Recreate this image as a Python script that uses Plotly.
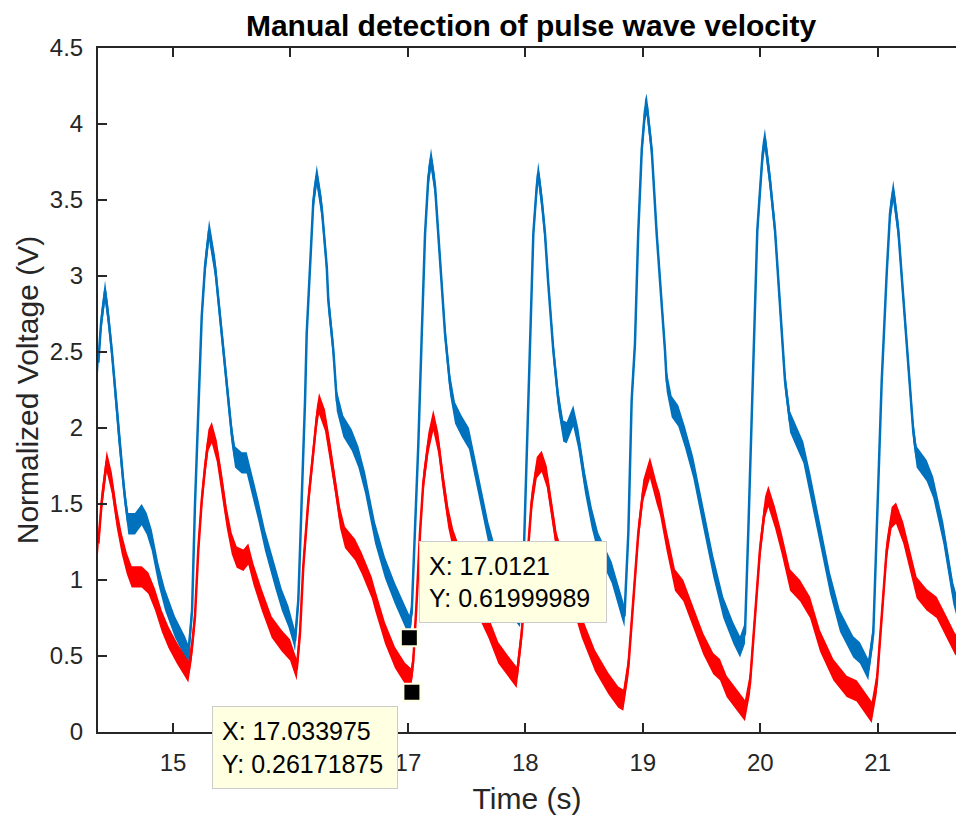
import plotly.graph_objects as go

# ---------------- data ----------------
blue_t = [14.364, 14.387, 14.421, 14.449, 14.478, 14.506, 14.534, 14.577, 14.596, 14.619,
          14.676, 14.733, 14.776, 14.819, 14.875, 14.932, 15.017, 15.102, 15.130,
          15.162, 15.187, 15.213, 15.244, 15.272, 15.307,
          15.358, 15.400, 15.443, 15.471, 15.500, 15.528, 15.585, 15.627, 15.670, 15.726,
          15.783, 15.868, 15.926, 15.982, 16.024, 16.039,
          16.067, 16.096, 16.124, 16.138, 16.166, 16.195, 16.224,
          16.266, 16.309, 16.322, 16.365, 16.394, 16.450, 16.522, 16.578, 16.635, 16.720,
          16.805, 16.890, 16.975, 17.012,
          17.032, 17.060, 17.089, 17.118, 17.146, 17.174, 17.197,
          17.231, 17.259, 17.288, 17.316, 17.358, 17.401, 17.458, 17.520, 17.571, 17.628,
          17.685, 17.742, 17.827, 17.912, 17.954,
          17.980, 18.012, 18.040, 18.068, 18.097, 18.110,
          18.139, 18.167, 18.195, 18.238, 18.281, 18.323, 18.352, 18.408, 18.451, 18.508,
          18.565, 18.621, 18.735, 18.820, 18.844,
          18.877, 18.905, 18.933, 18.961, 18.991, 19.019, 19.033,
          19.076, 19.118, 19.161, 19.189, 19.203, 19.246, 19.302, 19.359, 19.430, 19.515,
          19.600, 19.685, 19.771, 19.828,
          19.870, 19.898, 19.927, 19.955, 19.975, 19.998, 20.021, 20.040,
          20.083, 20.126, 20.154, 20.183, 20.211, 20.254, 20.310, 20.367, 20.424, 20.509,
          20.594, 20.679, 20.792, 20.849, 20.920,
          20.963, 20.992, 21.034, 21.077, 21.105, 21.133,
          21.176, 21.218, 21.261, 21.303, 21.332, 21.417, 21.473, 21.559, 21.644, 21.701]
blue_v = [2.43, 2.69, 2.90, 2.73, 2.51, 2.25, 1.98, 1.64, 1.50, 1.37,
          1.37, 1.43, 1.37, 1.26, 1.04, 0.87, 0.69, 0.56, 0.505,
          0.80, 1.50, 2.10, 2.73, 3.06, 3.30,
          3.06, 2.73, 2.40, 2.18, 1.96, 1.81, 1.77, 1.77, 1.64, 1.46,
          1.26, 1.02, 0.87, 0.76, 0.65, 0.60,
          0.87, 1.52, 2.18, 2.62, 3.06, 3.50, 3.66,
          3.45, 3.06, 2.84, 2.51, 2.18, 2.01, 1.92, 1.81, 1.64, 1.31,
          1.08, 0.91, 0.76, 0.70,
          0.78, 1.31, 1.90, 2.62, 3.28, 3.65, 3.77,
          3.59, 3.28, 2.95, 2.62, 2.29, 2.10, 2.01, 1.93, 1.74, 1.52,
          1.31, 1.15, 0.95, 0.80, 0.76,
          1.00, 1.87, 2.62, 3.28, 3.59, 3.68,
          3.50, 3.28, 2.95, 2.51, 2.18, 1.98, 1.97, 2.08, 1.93, 1.64,
          1.41, 1.24, 1.05, 0.82, 0.76,
          1.31, 2.18, 2.55, 3.28, 3.83, 4.09, 4.13,
          3.83, 3.28, 2.84, 2.51, 2.31, 2.14, 2.08, 1.94, 1.74, 1.41,
          1.09, 0.82, 0.65, 0.56,
          0.65, 1.31, 2.07, 2.75, 3.30, 3.56, 3.81, 3.90,
          3.63, 3.30, 2.97, 2.64, 2.31, 2.04, 1.94, 1.84, 1.64, 1.31,
          0.98, 0.73, 0.56, 0.52, 0.41,
          0.65, 1.31, 2.30, 3.02, 3.41, 3.56,
          3.30, 2.86, 2.43, 1.98, 1.81, 1.72, 1.61, 1.31, 0.91, 0.75]

red_t = [14.364, 14.393, 14.435, 14.478, 14.521, 14.563, 14.606, 14.648, 14.733, 14.790,
         14.847, 14.904, 14.960, 15.032, 15.088, 15.130,
         15.159, 15.187, 15.215, 15.244, 15.272, 15.301, 15.330,
         15.372, 15.415, 15.457, 15.500, 15.542, 15.599, 15.641, 15.684, 15.755, 15.840,
         15.926, 15.996, 16.053,
         16.081, 16.109, 16.152, 16.195, 16.224, 16.243,
         16.294, 16.337, 16.379, 16.422, 16.464, 16.550, 16.607, 16.692, 16.720, 16.805,
         16.890, 16.975, 17.026,
         17.046, 17.075, 17.103, 17.131, 17.174, 17.216,
         17.259, 17.301, 17.344, 17.387, 17.529, 17.685, 17.770, 17.855, 17.926,
         17.969, 18.012, 18.054, 18.097, 18.139,
         18.182, 18.225, 18.267, 18.380, 18.480, 18.593, 18.706, 18.791, 18.834,
         18.877, 18.919, 18.962, 19.004, 19.061,
         19.118, 19.146, 19.203, 19.274, 19.345, 19.430, 19.515, 19.600, 19.657, 19.714,
         19.799, 19.870,
         19.913, 19.955, 19.998, 20.041, 20.069,
         20.126, 20.183, 20.254, 20.339, 20.424, 20.509, 20.622, 20.736, 20.821, 20.877,
         20.949,
         20.992, 21.034, 21.077, 21.119, 21.156,
         21.218, 21.275, 21.332, 21.417, 21.502, 21.588, 21.658, 21.700]
red_v = [1.24, 1.52, 1.78, 1.64, 1.41, 1.24, 1.11, 1.02, 1.02, 0.98,
         0.87, 0.73, 0.625, 0.52, 0.45, 0.395,
         0.54, 0.76, 1.20, 1.52, 1.74, 1.92, 1.97,
         1.85, 1.64, 1.41, 1.24, 1.15, 1.13, 1.17, 1.04, 0.87, 0.69,
         0.60, 0.54, 0.41,
         0.65, 1.09, 1.52, 1.85, 2.07, 2.16,
         2.05, 1.85, 1.64, 1.41, 1.28, 1.20, 1.11, 0.95, 0.87, 0.65,
         0.49, 0.385, 0.35,
         0.47, 0.87, 1.31, 1.64, 1.90, 2.05,
         1.90, 1.64, 1.41, 1.26, 0.95, 0.69, 0.52, 0.43, 0.36,
         0.65, 1.09, 1.52, 1.74, 1.78,
         1.68, 1.46, 1.24, 0.95, 0.69, 0.47, 0.32, 0.23, 0.21,
         0.43, 0.87, 1.31, 1.59, 1.74,
         1.57, 1.50, 1.26, 1.00, 0.93, 0.76, 0.58, 0.45, 0.41, 0.30,
         0.21, 0.14,
         0.32, 0.76, 1.20, 1.48, 1.55,
         1.41, 1.24, 1.00, 0.93, 0.82, 0.60, 0.41, 0.30, 0.27, 0.21,
         0.13,
         0.32, 0.76, 1.20, 1.41, 1.44,
         1.31, 1.13, 0.95, 0.87, 0.82, 0.69, 0.58, 0.55]

tip_x = [17.0121, 17.033975]
tip_y = [0.61999989, 0.26171875]

x_ticks = [15, 16, 17, 18, 19, 20, 21]
y_ticks = [0, 0.5, 1, 1.5, 2, 2.5, 3, 3.5, 4, 4.5]
y_tick_labels = ["0", "0.5", "1", "1.5", "2", "2.5", "3", "3.5", "4", "4.5"]

# ---------------- styles ----------------
BLUE = "#0072BD"
RED = "#FF0000"
AX = "#262626"
FONT = "Liberation Sans, Arial, Helvetica, sans-serif"
NOISE_HALF = 0.07   # visual half-thickness of the noisy trace (V)

fig = go.Figure()


def add_signal(t, v, color, name):
    upper = [y + NOISE_HALF for y in v]
    lower = [y - NOISE_HALF for y in v]
    fig.add_trace(go.Scatter(x=t + t[::-1], y=upper + lower[::-1], fill="toself",
                             fillcolor=color, line=dict(width=0), mode="lines",
                             hoverinfo="skip", showlegend=False))
    fig.add_trace(go.Scatter(x=t, y=v, mode="lines", name=name,
                             line=dict(color=color, width=2.5), showlegend=False))


add_signal(blue_t, blue_v, BLUE, "Channel 1")
add_signal(red_t, red_v, RED, "Channel 2")

fig.add_trace(go.Scatter(x=tip_x, y=tip_y, mode="markers",
                         marker=dict(symbol="square", size=17, color="black",
                                     line=dict(color="#FFFFE1", width=2)),
                         showlegend=False, hoverinfo="skip"))

# data tip boxes
tip_font = dict(family=FONT, size=25, color="black")
fig.add_annotation(x=tip_x[0], y=tip_y[0], xref="x", yref="y",
                   text=f"X: {tip_x[0]}<br>Y: {tip_y[0]}", showarrow=False,
                   xanchor="left", yanchor="top", xshift=10, yshift=97,
                   align="left", width=168, height=62, borderpad=9,
                   bgcolor="#FFFFE1", bordercolor="#CCCCCC", borderwidth=1, font=tip_font)
fig.add_annotation(x=tip_x[1], y=tip_y[1], xref="x", yref="y",
                   text=f"X: {tip_x[1]}<br>Y: {tip_y[1]}", showarrow=False,
                   xanchor="right", yanchor="top", xshift=-14, yshift=-14,
                   align="left", width=166, height=63, borderpad=9,
                   bgcolor="#FFFFE1", bordercolor="#CCCCCC", borderwidth=1, font=tip_font)

axis_common = dict(showline=True, linecolor=AX, linewidth=2, ticks="inside",
                   ticklen=9, tickwidth=2, tickcolor=AX, showgrid=False, zeroline=False,
                   tickfont=dict(family=FONT, size=24, color=AX))

fig.update_xaxes(range=[14.361, 21.667], tickvals=x_ticks, mirror="ticks",
                 title=dict(text="Time (s)", font=dict(family=FONT, size=30, color=AX), standoff=13),
                 ticklabelstandoff=8, **axis_common)
fig.update_yaxes(range=[0, 4.5], tickvals=y_ticks, ticktext=y_tick_labels,
                 title=dict(text="Normalized Voltage (V)", font=dict(family=FONT, size=30, color=AX), standoff=2),
                 ticklabelstandoff=8, **axis_common)

fig.update_layout(
    width=956, height=818,
    margin=dict(l=98, r=0, t=48, b=86),
    paper_bgcolor="white", plot_bgcolor="white",
    title=dict(text="<b>Manual detection of pulse wave velocity</b>",
               font=dict(family=FONT, size=30, color="black"),
               x=531 / 956, xref="container", xanchor="center",
               y=1 - 25 / 818, yref="container", yanchor="middle"),
)

fig.write_html("out.html")
